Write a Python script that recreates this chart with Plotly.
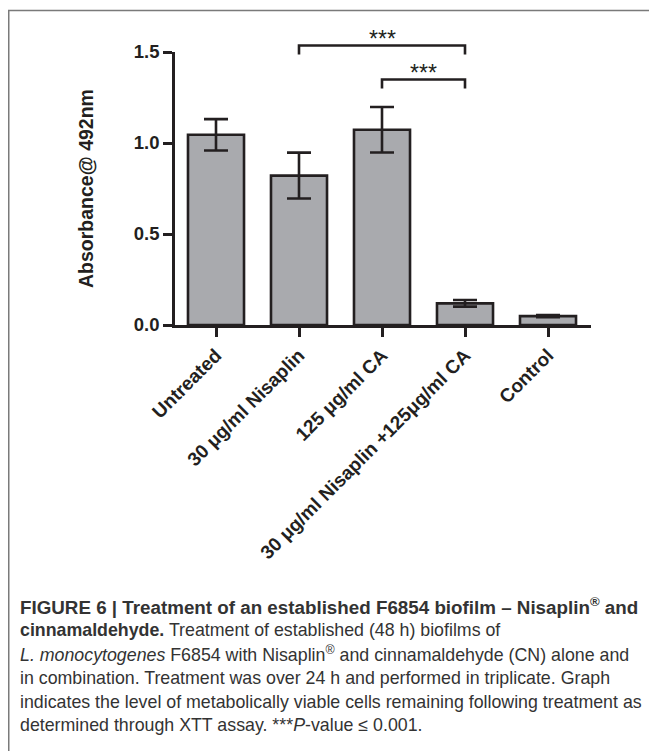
import plotly.graph_objects as go

# ---- data ----
categories = ["Untreated", "30 μg/ml Nisaplin", "125 μg/ml CA",
              "30 μg/ml Nisaplin +125μg/ml CA", "Control"]
means = [1.045, 0.821, 1.073, 0.119, 0.049]
errors = [0.086, 0.126, 0.125, 0.018, 0.006]
ytick_vals = [0.0, 0.5, 1.0, 1.5]
y_title = "Absorbance@ 492nm"
# comparisons: (index a, index b, bracket level, label)
comparisons = [(1, 3, 1.536, "***"), (2, 3, 1.349, "***")]
bracket_drop = 0.05

caption_lines = [
    "<b>FIGURE 6 | Treatment of an established F6854 biofilm – Nisaplin<sup>®</sup> and</b>",
    "<b>cinnamaldehyde.</b> Treatment of established (48 h) biofilms of",
    "<i>L. monocytogenes</i> F6854 with Nisaplin<sup>®</sup> and cinnamaldehyde (CN) alone and",
    "in combination. Treatment was over 24 h and performed in triplicate. Graph",
    "indicates the level of metabolically viable cells remaining following treatment as",
    "determined through XTT assay. ***<i>P</i>-value ≤ 0.001.",
]
caption_sizes = [18.8, 17.8, 17.8, 17.8, 17.8, 17.8]

# ---- layout geometry (pixels; page body adds an 8px offset) ----
W, H = 649, 743
L, T = 167, 43.5
PW, PH = 416, 273.5
R = W - L - PW
B = H - T - PH
YMAX = 1.5
ink = "#231f20"
CHART_FONT = "Liberation Sans, Arial, sans-serif"
CAP_FONT = "Liberation Sans, Arial, sans-serif"


def px_x(px):
    return (px - L) / PW


def px_y(py):
    return (T + PH - py) / PH


fig = go.Figure()
fig.add_trace(go.Bar(
    x=categories, y=means,
    width=0.675,
    marker=dict(color="#a9aaae", line=dict(color=ink, width=2.6)),
    error_y=dict(type="data", array=errors, visible=True,
                 color=ink, thickness=2.6, width=12),
    hoverinfo="skip",
))

shapes = []
annotations = []
for a, b, lvl, lab in comparisons:
    shapes.append(dict(
        type="path", xref="x", yref="paper",
        path=(f"M {a},{(lvl - bracket_drop) / YMAX} L {a},{lvl / YMAX} "
              f"L {b},{lvl / YMAX} L {b},{(lvl - bracket_drop) / YMAX}"),
        line=dict(color=ink, width=2.6),
    ))
    annotations.append(dict(
        x=(a + b) / 2, y=lvl / YMAX, xref="x", yref="paper",
        text=lab, showarrow=False, yanchor="bottom", yshift=-9,
        font=dict(family=CHART_FONT, size=23, color=ink),
    ))

annotations.append(dict(
    x=px_x(77.5), y=0.5, xref="paper", yref="paper", text=y_title,
    textangle=-90, showarrow=False, xanchor="center", yanchor="middle",
    font=dict(family=CHART_FONT, size=19.5, color=ink, weight="bold"),
))

for i, (line, fs) in enumerate(zip(caption_lines, caption_sizes)):
    annotations.append(dict(
        x=px_x(10), y=px_y(599 + 23.8 * i), xref="paper", yref="paper",
        text=line, showarrow=False, xanchor="left", yanchor="middle",
        font=dict(family=CAP_FONT, size=fs, color="#333333"),
    ))

# figure frame (left and top border)
shapes.append(dict(
    type="path", xref="paper", yref="paper",
    path=f"M {px_x(0.75)},{px_y(H + 5)} L {px_x(0.75)},{px_y(2)} L {px_x(W + 5)},{px_y(2)}",
    line=dict(color="#7a7a7a", width=1.5),
))

fig.update_layout(
    width=W, height=H,
    margin=dict(l=L, r=R, t=T, b=B, autoexpand=False),
    paper_bgcolor="white", plot_bgcolor="white",
    showlegend=False,
    shapes=shapes, annotations=annotations,
    font=dict(family=CHART_FONT, color=ink),
    xaxis=dict(
        range=[-0.494, 4.518], showline=True, linecolor=ink, linewidth=2.6,
        ticks="outside", ticklen=9, tickwidth=2.6, tickcolor=ink,
        tickangle=-45, showgrid=False, zeroline=False,
        tickfont=dict(family=CHART_FONT, size=19, color=ink, weight="bold"),
    ),
    yaxis=dict(
        range=[0, YMAX], showline=True, linecolor=ink, linewidth=2.6,
        ticks="outside", ticklen=9, tickwidth=2.6, tickcolor=ink,
        tickvals=ytick_vals, tickformat=".1f", showgrid=False, zeroline=False,
        tickfont=dict(family=CHART_FONT, size=18.5, color=ink, weight="bold"),
    ),
)

fig.write_html("out.html")
